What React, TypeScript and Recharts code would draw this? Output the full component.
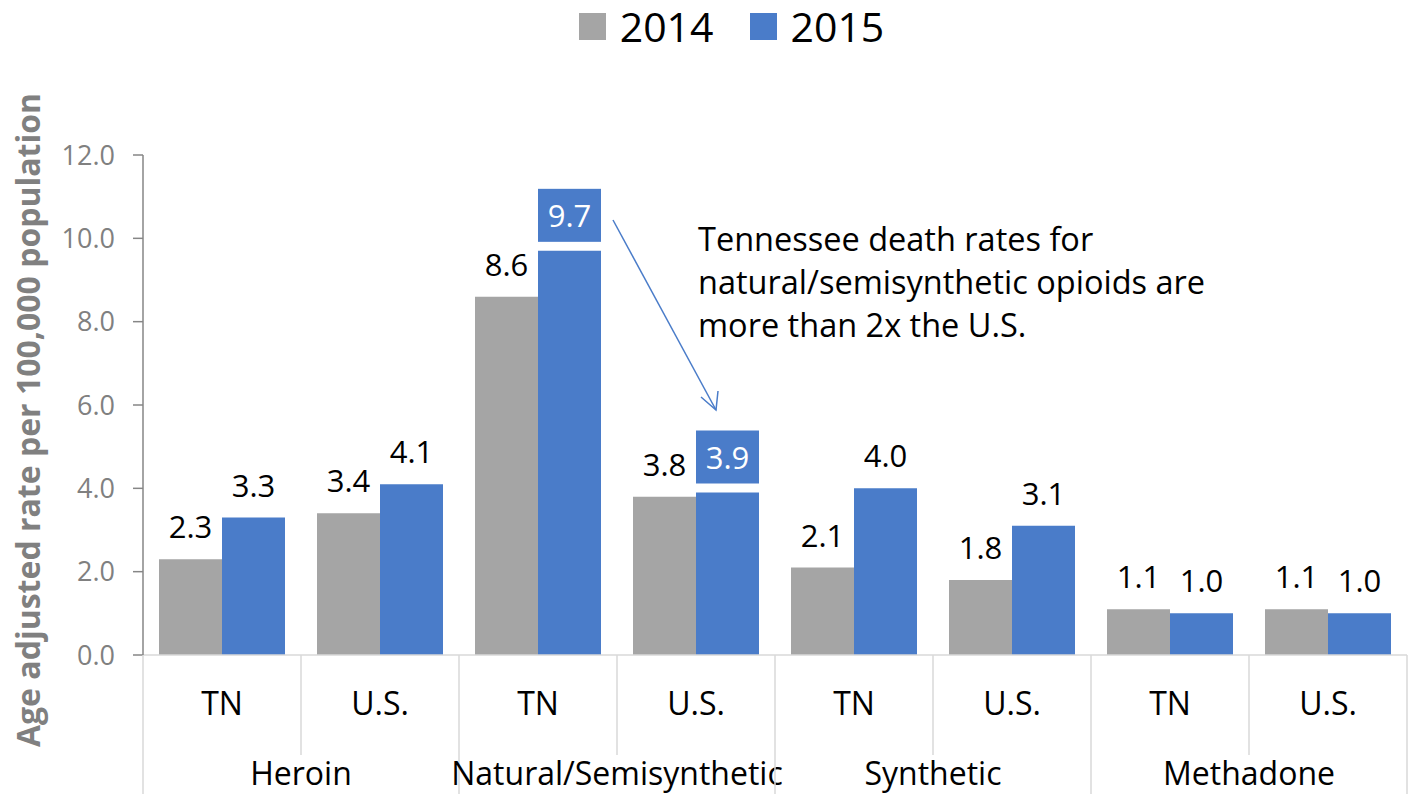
import React from 'react';
import { BarChart, Bar, XAxis, YAxis, Legend, LabelList } from 'recharts';

const groups = ['Heroin', 'Natural/Semisynthetic', 'Synthetic', 'Methadone'];
const regions = ['TN', 'U.S.'];
const values2014 = [2.3, 3.4, 8.6, 3.8, 2.1, 1.8, 1.1, 1.1];
const values2015 = [3.3, 4.1, 9.7, 3.9, 4.0, 3.1, 1.0, 1.0];
const highlighted2015 = [false, false, true, true, false, false, false, false];
const yTicks = [0, 2, 4, 6, 8, 10, 12];
const seriesNames = ['2014', '2015'];
const annotationLines = [
  'Tennessee death rates for',
  'natural/semisynthetic opioids are',
  'more than 2x the U.S.',
];
const yAxisTitle = 'Age adjusted rate per 100,000 population';

const data = values2014.map((v, i) => ({
  key: `c${i}`,
  group: groups[Math.floor(i / 2)],
  region: regions[i % 2],
  y2014: v,
  y2015: values2015[i],
  hl: highlighted2015[i],
}));

const W = 1415;
const H = 794;
const LEGEND_H = 52;
const MARGIN = { top: 155 - LEGEND_H, right: 8, bottom: 0, left: 0 };
const Y_W = 143;
const X_H = 139;
const PLOT_W = W - MARGIN.left - MARGIN.right - Y_W;
const BAND = PLOT_W / data.length;

const GREY = '#A5A5A5';
const BLUE = '#4A7CC9';
const FONT = '"Open Sans", sans-serif';
const LINE = '#D9D9D9';

const XTick = (props: any) => {
  const { x, y, index, payload } = props;
  const d = data[index] || data.find((e) => e.key === payload.value);
  const left = x - BAND / 2;
  const right = x + BAND / 2;
  const isGroupStart = index % 2 === 0;
  return (
    <g>
      <line x1={left} y1={y} x2={left} y2={y + (isGroupStart ? X_H : 100)} stroke={LINE} strokeWidth={1.5} />
      {index === data.length - 1 && (
        <line x1={right} y1={y} x2={right} y2={y + X_H} stroke={LINE} strokeWidth={1.5} />
      )}
      <text x={x} y={y + 60} textAnchor="middle" fontFamily={FONT} fontSize={32} fill="#000">
        {d.region}
      </text>
      {isGroupStart && (
        <text x={right} y={y + 130} textAnchor="middle" fontFamily={FONT} fontSize={32} fill="#000">
          {d.group}
        </text>
      )}
    </g>
  );
};

const label2014 = (props: any) => {
  const { x, y, width, value } = props;
  return (
    <text x={x + width / 2} y={y - 21} textAnchor="middle" fontFamily={FONT} fontSize={31} fill="#000">
      {Number(value).toFixed(1)}
    </text>
  );
};

const label2015 = (props: any) => {
  const { x, y, width, value, index } = props;
  const hl = data[index]?.hl;
  if (hl) {
    return (
      <g>
        <rect x={x} y={y - 62} width={width} height={53} fill={BLUE} />
        <text x={x + width / 2} y={y - 24} textAnchor="middle" fontFamily={FONT} fontSize={31} fill="#fff">
          {Number(value).toFixed(1)}
        </text>
      </g>
    );
  }
  return (
    <text x={x + width / 2} y={y - 21} textAnchor="middle" fontFamily={FONT} fontSize={31} fill="#000">
      {Number(value).toFixed(1)}
    </text>
  );
};

const LegendContent = () => (
  <div
    style={{
      height: LEGEND_H,
      display: 'flex',
      justifyContent: 'center',
      alignItems: 'center',
      fontFamily: FONT,
      paddingLeft: 48,
      boxSizing: 'border-box',
    }}
  >
    {seriesNames.map((n, i) => (
      <div key={n} style={{ display: 'flex', alignItems: 'center', marginRight: i === 0 ? 36 : 0 }}>
        <div style={{ width: 27, height: 27, background: i === 0 ? GREY : BLUE, marginRight: 14 }} />
        <span style={{ display: 'block', fontSize: 41, color: '#000', height: LEGEND_H, lineHeight: `${LEGEND_H}px` }}>{n}</span>
      </div>
    ))}
  </div>
);

const YLabel = (props: any) => {
  const { viewBox } = props;
  const cx = 27;
  const cy = viewBox.y + viewBox.height / 2 + 15;
  return (
    <text
      x={cx}
      y={cy}
      transform={`rotate(-90, ${cx}, ${cy})`}
      textAnchor="middle"
      dominantBaseline="central"
      fontFamily={FONT}
      fontWeight="bold"
      fontSize={32}
      fill="#808080"
    >
      {yAxisTitle}
    </text>
  );
};

export default function App() {
  return (
    <div style={{ position: 'absolute', left: 0, top: 0, width: W, height: H, background: '#fff' }}>
      <BarChart width={W} height={H} data={data} margin={MARGIN} barGap={0} barCategoryGap={16}>
        <Legend verticalAlign="top" align="center" wrapperStyle={{ top: 0, left: 0, width: W }} content={<LegendContent />} />
        <XAxis
          dataKey="key"
          height={X_H}
          tickSize={0}
          tickMargin={0}
          tickLine={false}
          axisLine={{ stroke: LINE, strokeWidth: 1.5 }}
          tick={<XTick />}
          interval={0}
        />
        <YAxis
          width={Y_W}
          domain={[0, 12]}
          ticks={yTicks}
          tickFormatter={(v: number) => v.toFixed(1)}
          tickSize={10}
          tickMargin={18}
          axisLine={{ stroke: '#868686', strokeWidth: 1.5 }}
          tickLine={{ stroke: '#868686', strokeWidth: 1.5 }}
          tick={{ fontFamily: FONT, fontSize: 27, fill: '#808080' }}
          label={<YLabel />}
        />
        <Bar dataKey="y2014" name={seriesNames[0]} fill={GREY} isAnimationActive={false}>
          <LabelList dataKey="y2014" content={label2014} />
        </Bar>
        <Bar dataKey="y2015" name={seriesNames[1]} fill={BLUE} isAnimationActive={false}>
          <LabelList dataKey="y2015" content={label2015} />
        </Bar>
        <g>
          <line x1={613} y1={220} x2={716} y2={410} stroke={BLUE} strokeWidth={1.5} />
          <polyline points="701,397 716,410 718,391" fill="none" stroke={BLUE} strokeWidth={1.5} />
          {annotationLines.map((t, i) => (
            <text key={i} x={698} y={251 + i * 43} fontFamily={FONT} fontSize={32.5} fill="#000">
              {t}
            </text>
          ))}
        </g>
      </BarChart>
    </div>
  );
}
